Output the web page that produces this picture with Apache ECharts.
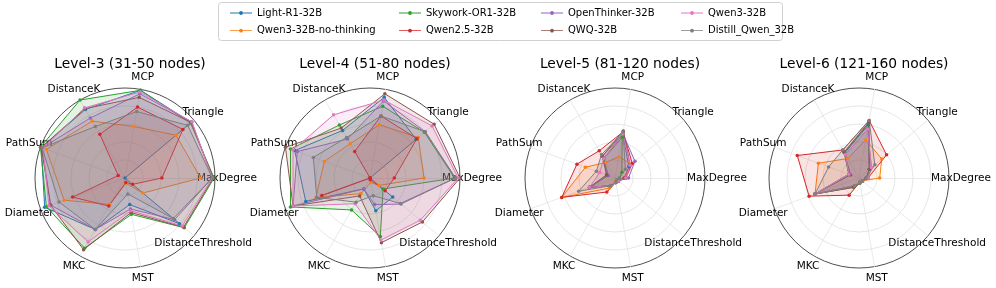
<!DOCTYPE html>
<html><head><meta charset="utf-8">
<script src="https://cdn.jsdelivr.net/npm/echarts@6/dist/echarts.min.js"></script>
<style>html,body{margin:0;padding:0;background:#fff}#c{width:996px;height:288px}</style>
</head><body><div id="c"></div>
<script>
// indicator order (counter-clockwise starting at 3 o'clock)
const tasks = ['MaxDegree','Triangle','MCP','DistanceK','PathSum','Diameter','MKC','MST','DistanceThreshold'];
const levels = ['Level-3 (31-50 nodes)','Level-4 (51-80 nodes)','Level-5 (81-120 nodes)','Level-6 (121-160 nodes)'];
const models = ['Light-R1-32B','Qwen3-32B-no-thinking','Skywork-OR1-32B','Qwen2.5-32B','OpenThinker-32B','QWQ-32B','Qwen3-32B','Distill_Qwen_32B'];
const colors = ['#1f77b4','#ff7f0e','#2ca02c','#d62728','#9467bd','#8c564b','#e377c2','#7f7f7f'];

// values per model, per level, in `tasks` order
const lightR1 = [
  [0.00,0.96,0.99,0.88,0.99,0.95,0.66,0.30,0.79],
  [0.00,0.67,0.91,0.61,0.89,0.76,0.14,0.37,0.33],
  [0.12,0.20,0.50,0.25,0.10,0.30,0.10,0.05,0.05],
  [0.08,0.15,0.60,0.32,0.12,0.52,0.10,0.05,0.05]];
const qwen3NoThink = [
  [0.84,0.74,0.58,0.73,0.93,0.72,0.34,0.06,0.26],
  [0.60,0.70,0.60,0.44,0.54,0.64,0.20,0.05,0.13],
  [0.11,0.24,0.24,0.20,0.35,0.63,0.13,0.04,0.05],
  [0.23,0.33,0.43,0.25,0.48,0.52,0.10,0.05,0.05]];
const skywork = [
  [0.99,0.95,0.99,1.00,1.00,0.93,0.90,0.41,0.86],
  [0.94,0.79,0.81,0.68,0.94,0.94,0.41,0.66,0.19],
  [0.05,0.10,0.46,0.25,0.08,0.30,0.10,0.05,0.03],
  [0.08,0.15,0.62,0.33,0.12,0.52,0.12,0.06,0.05]];
const qwen25 = [
  [0.41,0.84,0.80,0.56,0.08,0.62,0.36,0.05,0.11],
  [0.27,0.68,0.70,0.34,0.00,0.57,0.00,0.02,0.22],
  [0.12,0.25,0.52,0.35,0.45,0.63,0.18,0.05,0.04],
  [0.10,0.40,0.65,0.36,0.73,0.59,0.22,0.05,0.05]];
const openThinker = [
  [0.97,0.97,0.95,0.77,0.98,0.88,0.66,0.35,0.72],
  [0.95,0.80,0.87,0.50,0.86,0.91,0.14,0.30,0.45],
  [0.15,0.29,0.50,0.28,0.08,0.30,0.10,0.05,0.05],
  [0.10,0.18,0.55,0.30,0.12,0.52,0.10,0.05,0.05]];
const qwq = [
  [0.98,0.96,0.91,0.89,0.99,0.88,0.92,0.39,0.85],
  [1.00,0.93,0.95,0.64,1.00,0.91,0.23,0.73,0.76],
  [0.10,0.22,0.53,0.28,0.10,0.30,0.10,0.05,0.05],
  [0.08,0.15,0.63,0.33,0.10,0.52,0.12,0.05,0.05]];
const qwen3 = [
  [0.97,0.97,0.97,0.90,0.97,0.90,0.82,0.37,0.83],
  [0.98,0.90,0.88,0.81,0.91,0.91,0.33,0.70,0.73],
  [0.12,0.22,0.50,0.25,0.18,0.30,0.10,0.05,0.05],
  [0.10,0.18,0.55,0.30,0.12,0.52,0.10,0.05,0.05]];
const distill = [
  [0.97,0.91,0.75,0.66,0.98,0.78,0.66,0.18,0.70],
  [0.95,0.80,0.70,0.52,0.67,0.63,0.31,0.20,0.44],
  [0.05,0.15,0.52,0.30,0.22,0.43,0.10,0.05,0.03],
  [0.08,0.23,0.65,0.36,0.36,0.52,0.10,0.05,0.05]];
const allValues = [lightR1, qwen3NoThink, skywork, qwen25, openThinker, qwq, qwen3, distill];

const centersX = [125, 370, 615, 859];
const FONT = 'DejaVu Sans';

const chart = echarts.init(document.getElementById('c'), null, {renderer:'canvas'});

const radar = centersX.map(cx => ({
  center: [cx, 178], radius: 90, startAngle: 0, shape: 'circle', splitNumber: 5,
  indicator: tasks.map(t => ({name: t, min: 0, max: 1})),
  axisName: {color: '#000', fontSize: 10.5, fontFamily: FONT, align: 'center', verticalAlign: 'middle'},
  nameGap: 12,
  axisLine: {lineStyle: {color: '#e3e3e3', width: 0.8}},
  splitLine: {lineStyle: {color: ['#e3e3e3','#e3e3e3','#e3e3e3','#e3e3e3','#e3e3e3','#3a3a3a'], width: 0.9}},
  splitArea: {show: false},
  axisTick: {show: false}, axisLabel: {show: false}
}));

const series = centersX.map((cx, li) => ({
  type: 'radar', radarIndex: li, symbol: 'circle', symbolSize: 3.5,
  data: models.map((m, mi) => ({
    name: m, value: allValues[mi][li],
    itemStyle: {color: colors[mi]},
    lineStyle: {color: colors[mi], width: 1},
    areaStyle: {color: colors[mi], opacity: 0.13}
  }))
}));

const title = levels.map((t, i) => ({
  text: t, left: centersX[i], top: 52, textAlign: 'center',
  textStyle: {fontFamily: FONT, fontSize: 13.8, fontWeight: 'normal', color: '#000'}
}));

const iconPath = 'path://M0,4.45 L30,4.45 L30,5.55 L0,5.55 Z M15,2.4 A2.6,2.6 0 1,1 15,7.6 A2.6,2.6 0 1,1 15,2.4 Z';
const legendLefts = [225, 394, 536, 676];
const legend = legendLefts.map((lx, ci) => ({
  orient: 'vertical', left: lx, top: 3, itemWidth: 22, itemHeight: 7.3, itemGap: 7.7,
  icon: iconPath, data: [models[ci*2], models[ci*2+1]],
  textStyle: {fontFamily: FONT, fontSize: 10, color: '#000'},
  selectedMode: false
}));

chart.setOption({
  animation: false,
  backgroundColor: '#fff',
  color: colors,
  title, legend, radar, series,
  graphic: [{type: 'rect', shape: {x: 218.5, y: 2.5, width: 564, height: 38, r: 3},
    style: {fill: 'rgba(255,255,255,0.8)', stroke: '#d0d0d0', lineWidth: 1}, z: -1}]
});
</script></body></html>
